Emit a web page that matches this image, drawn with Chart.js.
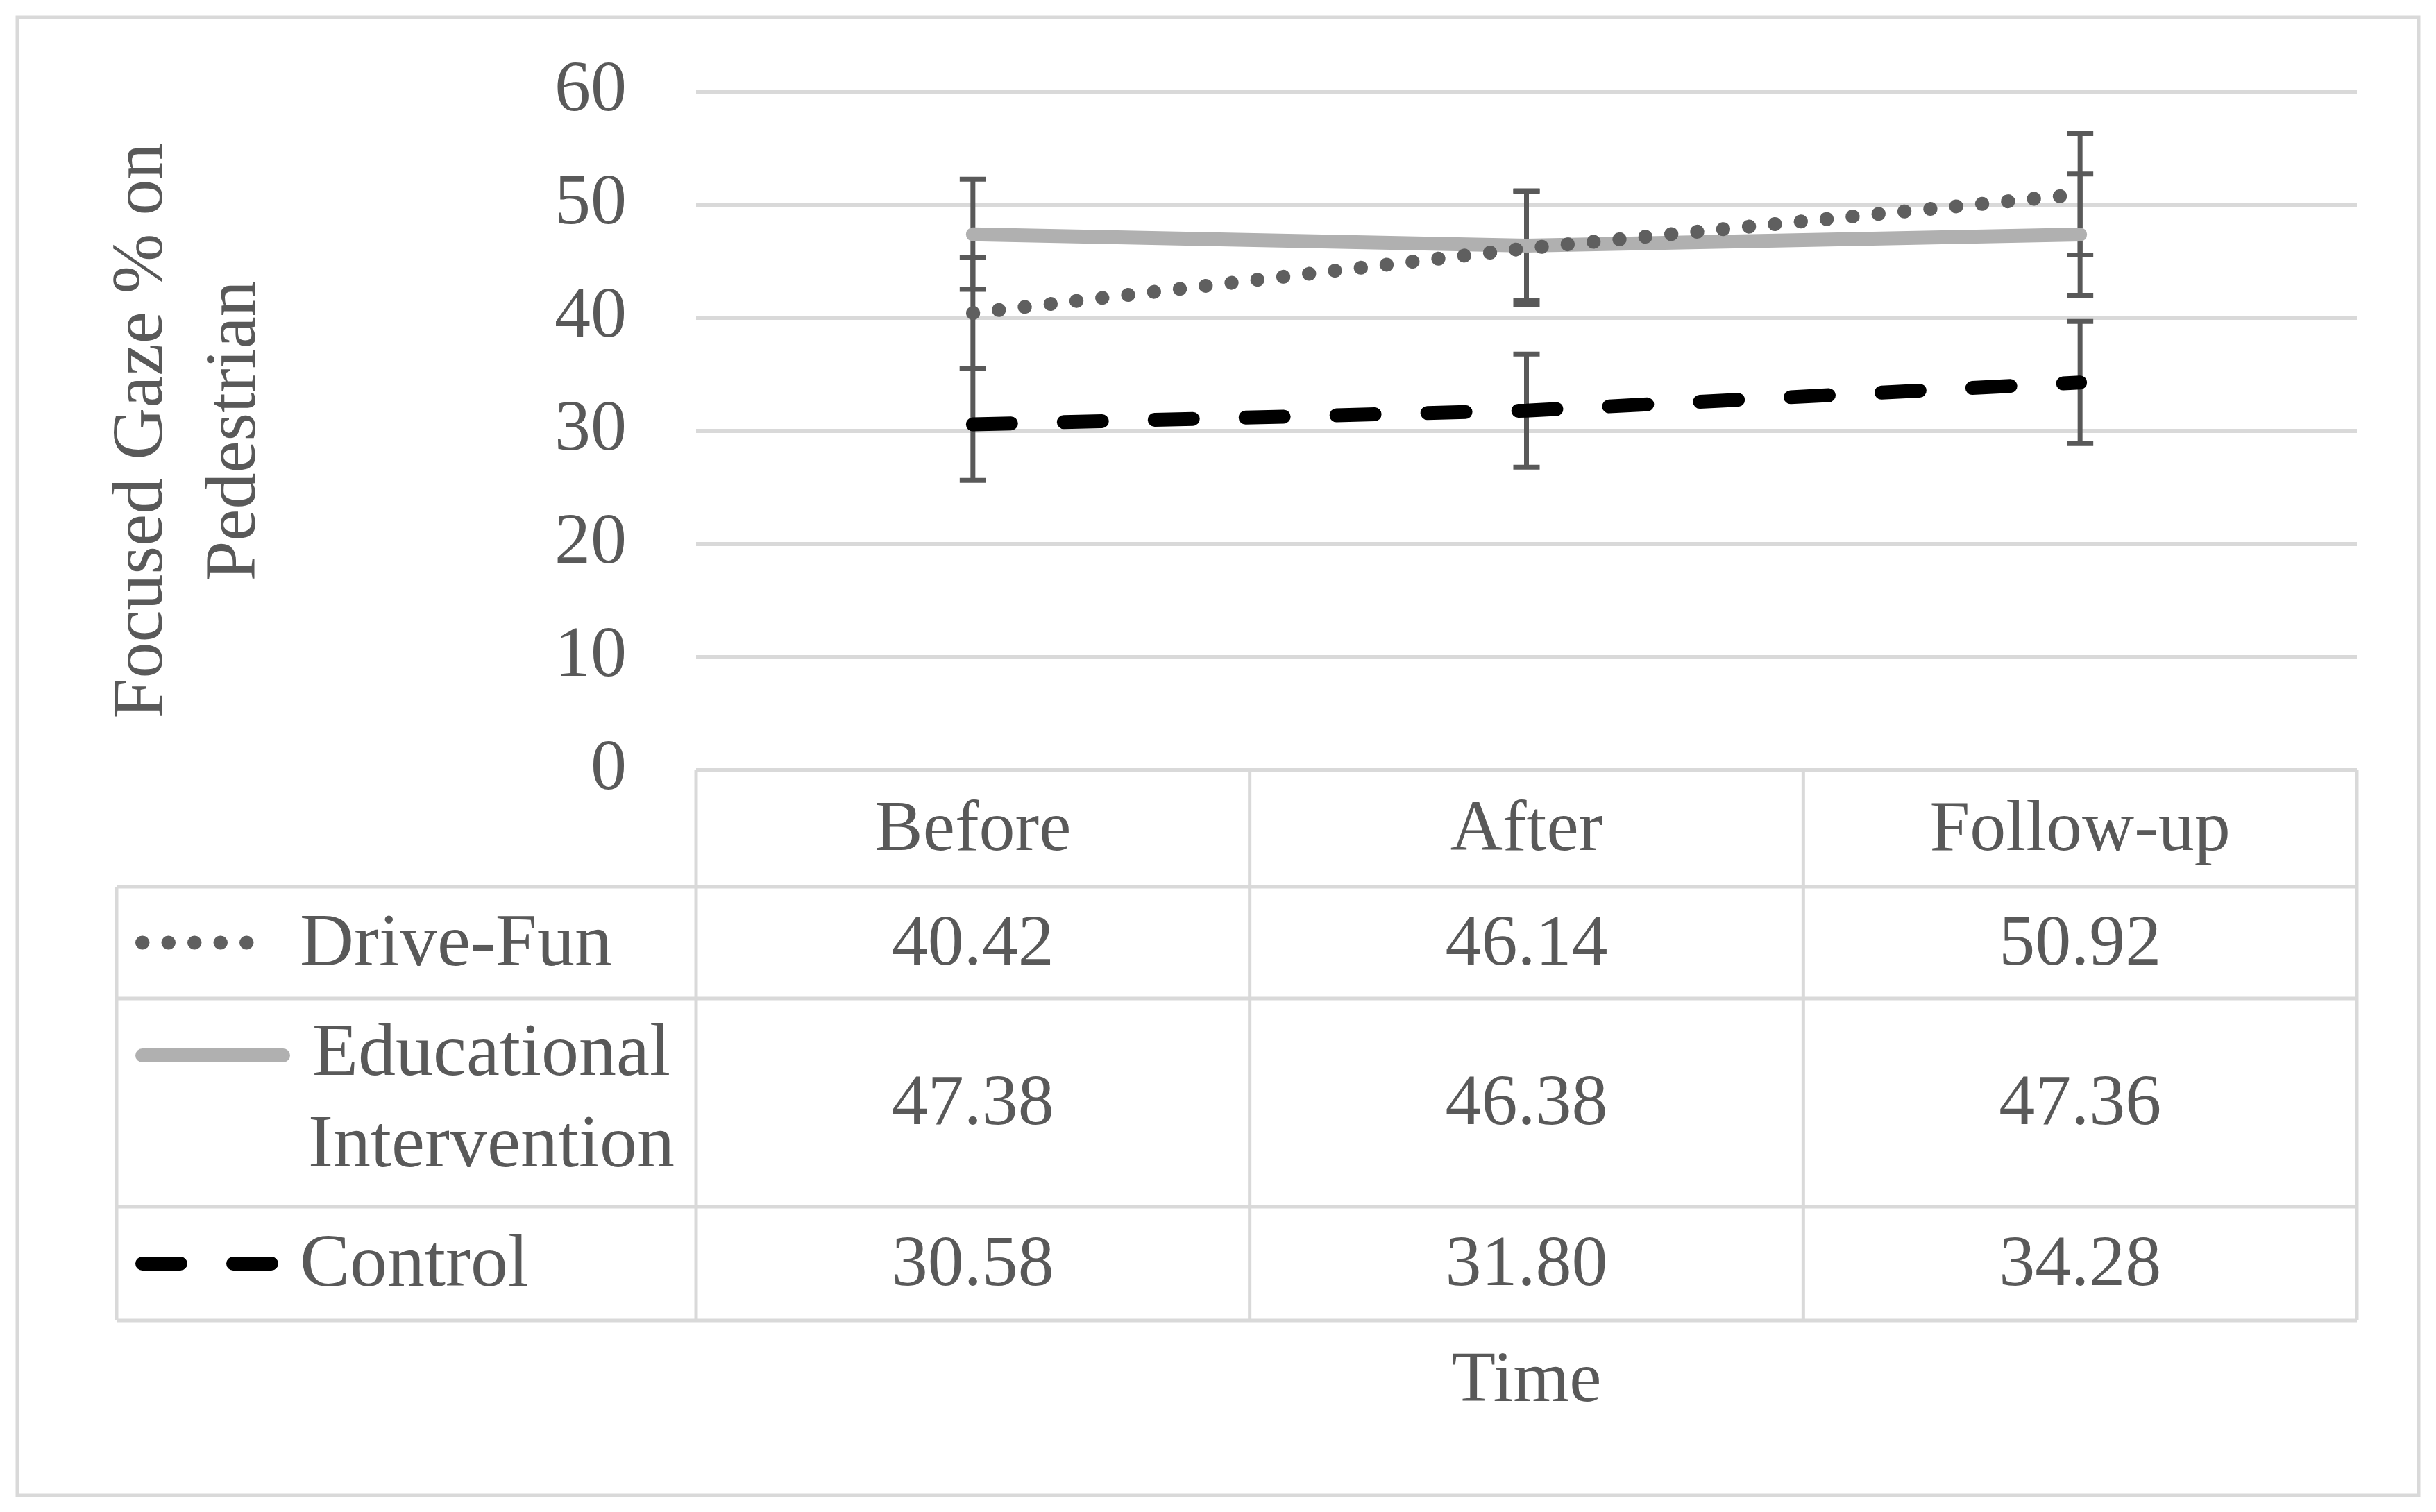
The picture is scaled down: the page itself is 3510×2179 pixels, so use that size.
<!DOCTYPE html>
<html>
<head>
<meta charset="utf-8">
<script src="https://cdn.jsdelivr.net/npm/chart.js@4"></script>
<style>
  body { margin: 0; background: #fff; }
</style>
</head>
<body>
<canvas id="myChart" width="3510" height="2179"></canvas>
<script>
// values
const categories = ['Before', 'After', 'Follow-up'];
const seriesNames = ['Drive-Fun', 'Educational Intervention', 'Control'];
const driveFun = [40.42, 46.14, 50.92];
const educational = [47.38, 46.38, 47.36];
const control = [30.58, 31.80, 34.28];
// error bar half-lengths (estimated from the caps)
const driveFunErr = [4.92, 5.0, 5.37];
const educationalErr = [4.87, 4.85, 5.36];
const controlErr = [4.95, 5.0, 5.4];
const yMax = 60;
const yStep = 10;

const errorSets = [driveFunErr, educationalErr, controlErr];

const FONT = 'Liberation Serif';
const FSIZE = 104;
const TEXT = '#595959';
const GRID = '#d9d9d9';

Chart.defaults.font.family = FONT;
Chart.defaults.font.size = FSIZE;
Chart.defaults.color = TEXT;

const tablePlugin = {
  id: 'excelTable',
  beforeDatasetsDraw(chart) {
    const ctx = chart.ctx;
    const y = chart.scales.y;
    ctx.save();
    ctx.strokeStyle = '#595959';
    ctx.lineWidth = 7;
    ctx.setLineDash([]);
    chart.data.datasets.forEach((ds, di) => {
      const meta = chart.getDatasetMeta(di);
      errorSets[di].forEach((e, i) => {
        const px = meta.data[i].x;
        const yt = y.getPixelForValue(ds.data[i] + e);
        const yb = y.getPixelForValue(ds.data[i] - e);
        ctx.beginPath();
        ctx.moveTo(px, yt); ctx.lineTo(px, yb);
        ctx.moveTo(px - 19, yt); ctx.lineTo(px + 19, yt);
        ctx.moveTo(px - 19, yb); ctx.lineTo(px + 19, yb);
        ctx.stroke();
      });
    });
    ctx.restore();
  },
  afterDraw(chart) {
    const ctx = chart.ctx;
    const x = chart.scales.x;
    const area = chart.chartArea;
    const colW = x.getPixelForValue(1) - x.getPixelForValue(0);
    const legLeft = 168;
    const top = area.bottom;
    const rows = [top, top + 168, top + 329, top + 629, top + 793];

    ctx.save();
    // table grid
    ctx.strokeStyle = GRID;
    ctx.lineWidth = 5;
    ctx.beginPath();
    ctx.moveTo(area.left, rows[0]); ctx.lineTo(area.right, rows[0]);
    for (let r = 1; r < rows.length; r++) {
      ctx.moveTo(legLeft, rows[r]); ctx.lineTo(area.right, rows[r]);
    }
    ctx.moveTo(legLeft, rows[1]); ctx.lineTo(legLeft, rows[4]);
    for (let c = 0; c <= categories.length; c++) {
      const cx = area.left + c * colW;
      ctx.moveTo(cx, rows[0]); ctx.lineTo(cx, rows[4]);
    }
    ctx.stroke();

    // outer frame
    ctx.lineWidth = 5;
    ctx.strokeRect(25, 25, 3460, 2130);

    ctx.fillStyle = TEXT;
    ctx.font = FSIZE + 'px "' + FONT + '"';
    ctx.textBaseline = 'middle';
    ctx.textAlign = 'center';

    // header row
    categories.forEach((c, i) => {
      ctx.fillText(c, x.getPixelForValue(i), (rows[0] + rows[1]) / 2 + 4);
    });

    // value rows
    chart.data.datasets.forEach((ds, di) => {
      const cy = (rows[di + 1] + rows[di + 2]) / 2 + 4;
      ds.data.forEach((v, i) => {
        ctx.fillText(v.toFixed(2), x.getPixelForValue(i), cy);
      });
    });

    // legend labels
    ctx.font = '108px "' + FONT + '"';
    ctx.textAlign = 'left';
    ctx.fillText('Drive-Fun', 432, (rows[1] + rows[2]) / 2 + 4);
    ctx.fillText('Control', 432, (rows[3] + rows[4]) / 2 + 4);
    ctx.textAlign = 'center';
    ctx.fillText('Educational', 708, rows[2] + 82);
    ctx.fillText('Intervention', 708, rows[2] + 214);
    ctx.font = FSIZE + 'px "' + FONT + '"';

    // legend keys
    const keyY = [(rows[1] + rows[2]) / 2, rows[2] + 82, (rows[3] + rows[4]) / 2];
    chart.data.datasets.forEach((ds, di) => {
      ctx.beginPath();
      ctx.strokeStyle = ds.borderColor;
      ctx.lineWidth = ds.borderWidth;
      ctx.lineCap = 'round';
      ctx.setLineDash(ds.borderDash || []);
      ctx.lineDashOffset = 0;
      ctx.moveTo(205, keyY[di]);
      ctx.lineTo(di === 1 ? 408 : 392, keyY[di]);
      ctx.stroke();
    });
    ctx.setLineDash([]);

    // axis titles
    ctx.fillStyle = TEXT;
    ctx.textAlign = 'center';
    ctx.fillText('Time', (area.left + area.right) / 2, 1992);
    const midY = (area.top + area.bottom) / 2;
    ctx.save();
    ctx.translate(206, midY);
    ctx.rotate(-Math.PI / 2);
    ctx.fillText('Focused Gaze % on', 0, 0);
    ctx.restore();
    ctx.save();
    ctx.translate(340, midY);
    ctx.rotate(-Math.PI / 2);
    ctx.fillText('Pedestrian', 0, 0);
    ctx.restore();

    ctx.restore();
  }
};

const ctx = document.getElementById('myChart').getContext('2d');

const myChart = new Chart(ctx, {
  type: 'line',
  data: {
    labels: categories,
    datasets: [
      {
        label: seriesNames[0],
        data: driveFun,
        borderColor: '#5f5f5f',
        borderWidth: 20,
        borderDash: [0.5, 37],
        borderCapStyle: 'round',
        pointRadius: 0,
        tension: 0
      },
      {
        label: seriesNames[1],
        data: educational,
        borderColor: '#b0b0b0',
        borderWidth: 20,
        borderCapStyle: 'round',
        pointRadius: 0,
        tension: 0
      },
      {
        label: seriesNames[2],
        data: control,
        borderColor: '#000000',
        borderWidth: 20,
        borderDash: [55, 76],
        borderCapStyle: 'round',
        pointRadius: 0,
        tension: 0
      }
    ]
  },
  options: {
    responsive: false,
    animation: false,
    layout: {
      padding: { left: 0, top: 132, right: 114, bottom: 1069 }
    },
    plugins: {
      legend: { display: false },
      tooltip: { enabled: false }
    },
    scales: {
      x: {
        offset: true,
        grid: { display: false },
        border: { display: false },
        ticks: { display: false },
        afterFit(scale) { scale.height = 0; }
      },
      y: {
        min: 0,
        max: yMax,
        ticks: { stepSize: yStep, padding: 100, color: TEXT },
        grid: { color: GRID, lineWidth: 6, drawTicks: false },
        border: { display: false },
        afterFit(scale) {
          scale.width = 1003;
          scale.paddingTop = 0;
          scale.paddingBottom = 0;
        }
      }
    }
  },
  plugins: [tablePlugin]
});
</script>
</body>
</html>
